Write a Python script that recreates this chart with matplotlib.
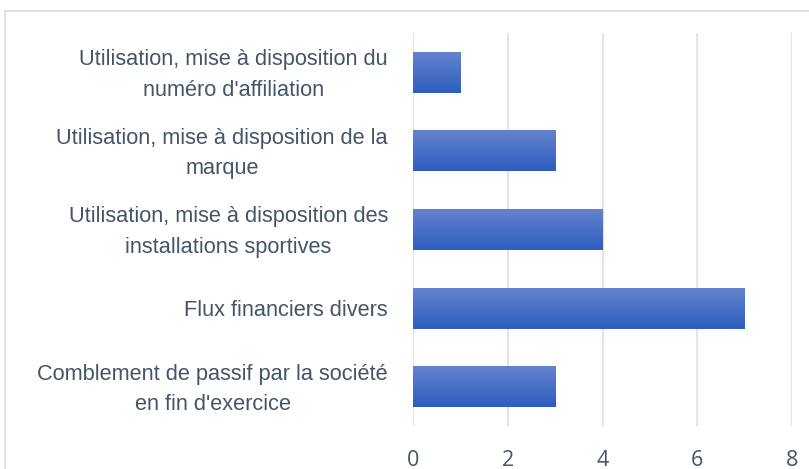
import numpy as np
import matplotlib.pyplot as plt
from matplotlib.patches import Rectangle
from matplotlib.colors import LinearSegmentedColormap
from matplotlib.transforms import ScaledTranslation

categories = [
    "Utilisation, mise à disposition du\nnuméro d'affiliation",
    "Utilisation, mise à disposition de la\nmarque",
    "Utilisation, mise à disposition des\ninstallations sportives",
    "Flux financiers divers",
    "Comblement de passif par la société\nen fin d'exercice",
]
values = [1, 3, 4, 7, 3]
xticks = [0, 2, 4, 6, 8]

text_color = "#44546A"
grid_color = "#E1E5EA"

fig = plt.figure(figsize=(8.09, 4.69), dpi=100)
ax = fig.add_axes([0.5105, 0.0917, 0.979 - 0.5105, 0.9296 - 0.0917])

# chart border, partly off the right and bottom edge
fig.patches.append(Rectangle((5 / 809, -0.1), 1.2, 1 - 11 / 469 + 0.1,
                             transform=fig.transFigure, fill=False,
                             edgecolor="#D9DDE2", linewidth=1.2))

ypos = np.arange(len(categories))[::-1]
bars = ax.barh(ypos, values, height=0.52, color="none", zorder=2)

# vertical gradient: darker at the bottom, lighter at the top
grad = np.linspace(0, 1, 100).reshape(-1, 1)
cmap = LinearSegmentedColormap.from_list("g", ["#2E5EBE", "#6483CE"])
for b in bars:
    x0, y0 = b.get_x(), b.get_y()
    w, h = b.get_width(), b.get_height()
    im = ax.imshow(grad, cmap=cmap, aspect="auto", zorder=2, origin="lower",
                   extent=(x0, x0 + w, y0, y0 + h))
    im.set_clip_path(b)

ax.set_xlim(0, 8)
ax.set_ylim(-0.5, len(categories) - 0.5)
ax.set_xticks(xticks)
ax.set_yticks(ypos)
ax.set_yticklabels([])

# category labels, right aligned left of the axis
for y, label in zip(ypos, categories):
    dy = -1.9 if "\n" in label else -1.4
    tr = ax.get_yaxis_transform() + ScaledTranslation(-18 / 72, dy / 72,
                                                     fig.dpi_scale_trans)
    ax.text(0, y, label, transform=tr, ha="right", va="center",
            multialignment="center", linespacing=1.6, fontsize=15.7,
            color=text_color, fontfamily=["Liberation Sans", "DejaVu Sans"])

ax.tick_params(axis="y", length=0)
ax.tick_params(axis="x", length=0, pad=17, labelsize=15.5, labelcolor=text_color)
for t in ax.get_xticklabels():
    t.set_fontfamily("Open Sans")

ax.grid(axis="x", color=grid_color, linewidth=1.5, zorder=0)
ax.set_axisbelow(True)
for s in ax.spines.values():
    s.set_visible(False)

fig.savefig("out.png", dpi=100)
